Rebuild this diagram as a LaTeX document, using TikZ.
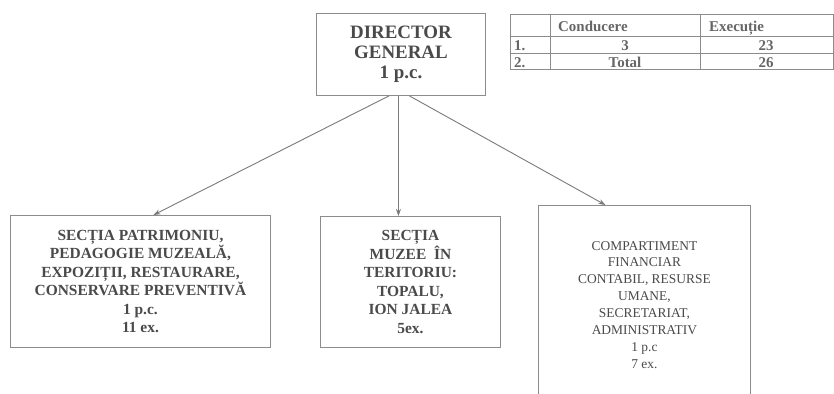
\documentclass[tikz,border=0pt]{standalone}
\usepackage{fontspec}
\setmainfont{Liberation Serif}
\usetikzlibrary{arrows.meta}
\definecolor{txt}{HTML}{4A4A4A}
\definecolor{tbltxt}{HTML}{666666}
\definecolor{edge}{HTML}{8C8C8C}
\definecolor{arrc}{HTML}{7A7A7A}
\begin{document}
\begin{tikzpicture}[x=1bp,y=-1bp,
  box/.style={draw=edge,line width=0.9bp,inner sep=0pt,anchor=north west,align=center,text=txt},
  arr/.style={draw=arrc,line width=0.9bp,-{Stealth[length=7bp,width=5bp]}},
  grid/.style={draw=edge,line width=0.8bp},
  cell/.style={inner sep=0pt,text=tbltxt,font=\fontsize{15}{16}\selectfont\bfseries}]
\useasboundingbox[fill=white] (0,0) rectangle (834,393);
% director
\node[box,minimum width=169bp,minimum height=82bp,font=\fontsize{19}{20}\selectfont\bfseries] (dir) at (316,13)
  {DIRECTOR\\GENERAL\\1 p.c.};
% boxes
\node[box,minimum width=260bp,minimum height=132bp,font=\fontsize{15.5}{18.5}\selectfont\bfseries] (b1) at (10,215)
  {SECȚIA PATRIMONIU,\\PEDAGOGIE MUZEALĂ,\\EXPOZIȚII, RESTAURARE,\\CONSERVARE PREVENTIVĂ\\1 p.c.\\11 ex.};
\node[box,minimum width=180bp,minimum height=131bp,font=\fontsize{15.5}{18.5}\selectfont\bfseries] (b2) at (320,216)
  {SECȚIA\\MUZEE\ \ ÎN\\TERITORIU:\\TOPALU,\\ION JALEA\\5ex.};
\node[box,minimum width=212bp,minimum height=195bp,font=\fontsize{13.5}{17}\selectfont] (b3) at (538,205)
  {\\[-4bp]COMPARTIMENT\\FINANCIAR\\CONTABIL, RESURSE\\UMANE,\\SECRETARIAT,\\ADMINISTRATIV\\1 p.c\\7 ex.};
% arrows
\draw[arr] ([xshift=-12bp]dir.south) -- ([xshift=13bp]b1.north);
\draw[arr] ([xshift=-2.5bp]dir.south) -- ([xshift=-12bp]b2.north);
\draw[arr] ([xshift=8.5bp]dir.south) -- ([xshift=-39bp]b3.north);
% table
\node[grid,minimum width=323bp,minimum height=55bp,inner sep=0pt,anchor=north west] (tbl) at (510,14) {};
\draw[grid] (tbl.north west) ++(0,22) -- ++(323,0);
\draw[grid] (tbl.north west) ++(0,39) -- ++(323,0);
\draw[grid] (tbl.north west) ++(40,0) -- ++(0,55);
\draw[grid] (tbl.north west) ++(190,0) -- ++(0,55);
\node[cell,anchor=base west] (h1) at (558,31) {Conducere};
\node[cell,anchor=base west] (h2) at (709,31) {Execuție};
\node[cell,anchor=base west] (r1) at (514,50) {1.};
\node[cell,anchor=base] (r1a) at (625,50) {3};
\node[cell,anchor=base] (r1b) at (766,50) {23};
\node[cell,anchor=base west] (r2) at (514,67) {2.};
\node[cell,anchor=base] (r2a) at (625,67) {Total};
\node[cell,anchor=base] (r2b) at (766,67) {26};
\end{tikzpicture}
\end{document}
